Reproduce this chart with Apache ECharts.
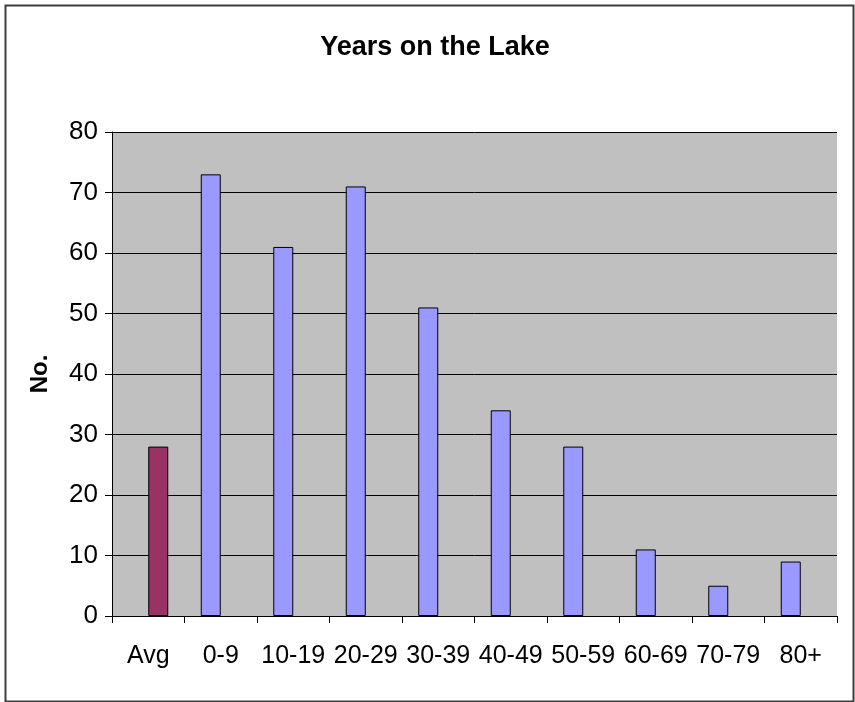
<!DOCTYPE html>
<html>
<head>
<meta charset="utf-8">
<script src="https://cdn.jsdelivr.net/npm/echarts@6/dist/echarts.min.js"></script>
<style>
html,body{margin:0;padding:0;background:#fff;}
#c{width:855px;height:702px;}
</style>
</head>
<body>
<div id="c"></div>
<script>
const categories = ['Avg', '0-9', '10-19', '20-29', '30-39', '40-49', '50-59', '60-69', '70-79', '80+'];
const countValues = [null, 73, 61, 71, 51, 34, 28, 11, 5, 9];
const avgValues = [28, null, null, null, null, null, null, null, null, null];
const yTicks = { min: 0, max: 80, interval: 10 };

const chart = echarts.init(document.getElementById('c'), null, { renderer: 'canvas' });
const font = '"Liberation Sans", Arial, sans-serif';
chart.setOption({
  animation: false,
  backgroundColor: '#ffffff',
  title: {
    text: 'Years on the Lake',
    left: 430, textAlign: 'center', top: 29,
    textStyle: { fontFamily: font, fontSize: 27, fontWeight: 'bold', color: '#000' }
  },
  graphic: [{
    type: 'rect', left: 3, top: 3, z: -1,
    shape: { width: 848, height: 696 },
    style: { fill: 'none', stroke: '#3c3c3c', lineWidth: 2 }
  }],
  grid: { left: 112, top: 132, right: 18, bottom: 86, show: true, backgroundColor: '#c0c0c0', borderWidth: 0 },
  xAxis: {
    type: 'category', data: categories,
    axisLine: { lineStyle: { color: '#000', width: 1 } },
    axisTick: { show: true, length: 7, lineStyle: { color: '#000' }, alignWithLabel: false },
    axisLabel: { fontFamily: font, fontSize: 25, color: '#000', margin: 28, interval: 0 }
  },
  yAxis: {
    type: 'value', min: yTicks.min, max: yTicks.max, interval: yTicks.interval,
    name: 'No.', nameLocation: 'middle', nameGap: 60, nameRotate: 90,
    nameTextStyle: { fontFamily: font, fontSize: 24, fontWeight: 'bold', color: '#000' },
    axisLine: { show: true, lineStyle: { color: '#000', width: 1 } },
    axisTick: { show: true, length: 7, lineStyle: { color: '#000' } },
    axisLabel: { fontFamily: font, fontSize: 26, color: '#000', margin: 14 },
    splitLine: { show: true, lineStyle: { color: '#000', width: 1 } }
  },
  series: [
    {
      type: 'bar', data: countValues, barWidth: 20, barGap: '0%',
      itemStyle: { color: '#9999ff', borderColor: '#000', borderWidth: 1 }
    },
    {
      type: 'bar', data: avgValues, barWidth: 20, barGap: '0%',
      itemStyle: { color: '#993366', borderColor: '#000', borderWidth: 1 }
    }
  ]
});
</script>
</body>
</html>
